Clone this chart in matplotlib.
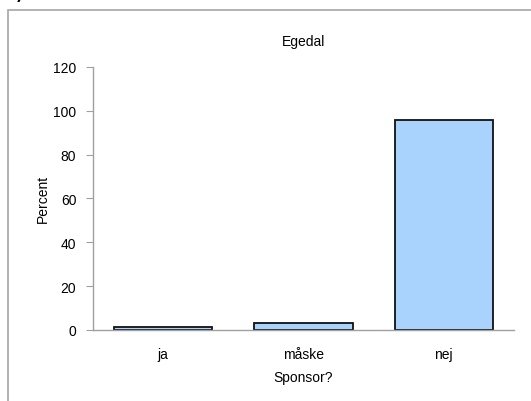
import matplotlib
matplotlib.use("Agg")
import matplotlib.pyplot as plt
import matplotlib.patches as patches

# Datos
categories = ["ja", "måske", "nej"]
percent = [1.3, 2.9, 95.8]
yticks = [0, 20, 40, 60, 80, 100, 120]

plt.rcParams['font.family'] = ['Liberation Sans', 'DejaVu Sans']
fs = 10

fig = plt.figure(figsize=(5.31, 4.02), dpi=100)
ax = fig.add_axes([0.175, 0.177, 0.793, 0.654])

# Marco gris alrededor del grafico
fig.patches.append(patches.Rectangle((8 / 531, -0.1), 1.2, 1.1 - 11 / 402,
                                     transform=fig.transFigure, fill=False,
                                     edgecolor="#a6a6a6", linewidth=1.2))
fig.text(0.038, 1.005, "/", fontsize=14, fontweight="bold", style="italic",
         ha="center", va="center")

x = range(len(categories))
ax.bar(x, percent, width=0.7, color="#a9d3fd", edgecolor="#111111", linewidth=1.3)

ax.set_xlim(-0.5, len(categories) - 0.5)
ax.set_ylim(0, 120)
ax.set_yticks(yticks)
ax.set_xticks(list(x))
ax.set_xticklabels(categories)

for side in ["top", "right"]:
    ax.spines[side].set_visible(False)
for side in ["left", "bottom"]:
    ax.spines[side].set_color("#a0a0a0")
    ax.spines[side].set_linewidth(1.0)
ax.tick_params(axis="y", direction="out", length=5, color="#a0a0a0", labelsize=fs, pad=7)
ax.tick_params(axis="x", length=0, labelsize=fs, pad=12)

ax.set_title("Egedal", fontsize=fs, pad=16)
ax.set_ylabel("Percent", fontsize=fs, labelpad=2)
ax.set_xlabel("Sponsor?", fontsize=fs, labelpad=7)

fig.savefig("out.png", dpi=100)
